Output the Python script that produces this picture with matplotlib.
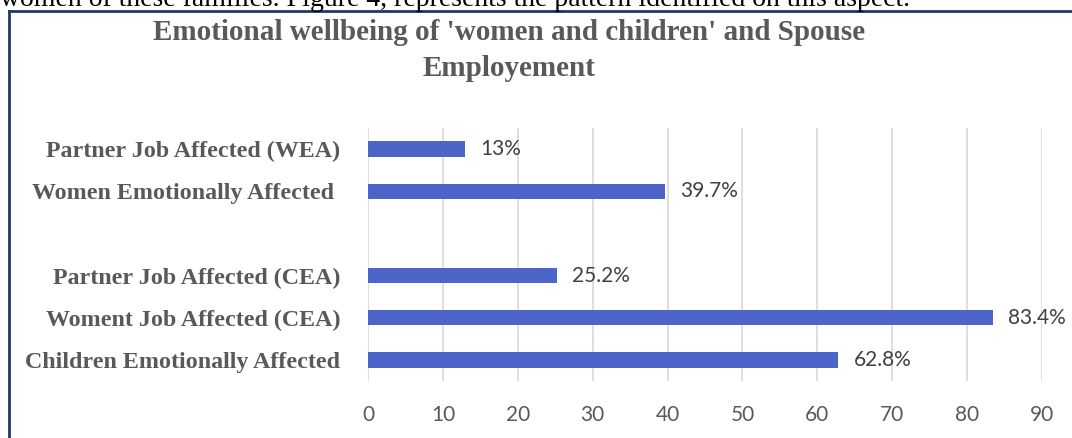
import matplotlib.pyplot as plt
from matplotlib.lines import Line2D

# ============ DATA ============
categories = ['Children Emotionally Affected', 'Woment Job Affected (CEA)',
              'Partner Job Affected (CEA)', '',
              'Women Emotionally Affected ', 'Partner Job Affected (WEA)']
values = [62.8, 83.4, 25.2, None, 39.7, 13]
value_labels = ['62.8%', '83.4%', '25.2%', '', '39.7%', '13%']
x_ticks = [0, 10, 20, 30, 40, 50, 60, 70, 80, 90]

BAR_COLOR = '#4d65c8'
GRAY = '#595959'

# ============ PLOT ============
fig = plt.figure(figsize=(10.72, 4.38), dpi=100)
ax = fig.add_axes([0.3433, 0.130, 0.6287, 0.578])

pos = [i for i, v in enumerate(values) if v is not None]
vals = [v for v in values if v is not None]
ax.barh(pos, vals, height=0.36, color=BAR_COLOR, zorder=3)

for i, v in enumerate(values):
    if v is None:
        continue
    ax.annotate(value_labels[i], (v, i), xytext=(11, 0), textcoords='offset points',
                va='center', ha='left', fontsize=15, color='#404040', family='Lato')

ax.set_xlim(0, 90)
ax.set_ylim(-0.5, 5.5)
ax.set_xticks(x_ticks)
ax.set_xticklabels([str(t) for t in x_ticks], fontsize=15, color=GRAY, family='Lato')
ax.set_yticks(range(len(categories)))
ax.set_yticklabels(categories, fontsize=17.3, color=GRAY, family='Liberation Serif',
                   fontweight='bold')
ax.tick_params(axis='both', length=0)
ax.tick_params(axis='x', pad=17)
ax.tick_params(axis='y', pad=20)
ax.grid(axis='x', color='#d9d9d9', linewidth=1.2, zorder=0)
for s in ax.spines.values():
    s.set_visible(False)

fig.text(0.475, 1 - 32 / 438, "Emotional wellbeing of 'women and children' and Spouse",
         ha='center', va='center', fontsize=21, fontweight='bold', color=GRAY,
         family='Liberation Serif')
fig.text(0.475, 1 - 68 / 438, "Employement",
         ha='center', va='center', fontsize=21, fontweight='bold', color=GRAY,
         family='Liberation Serif')

# clipped body text above the figure frame
fig.text(0.0, 1 - 6 / 438,
         "women of these families. Figure 4, represents the pattern identified on this aspect.",
         ha='left', va='baseline', fontsize=20, color='black', family='Liberation Serif')

# frame around the chart
fig.add_artist(Line2D([9 / 1072, 9 / 1072], [0, 1 - 10.5 / 438], color='#1f3864', lw=2))
fig.add_artist(Line2D([9 / 1072, 1], [1 - 10.5 / 438, 1 - 10.5 / 438], color='#1f3864', lw=2))

fig.savefig('out.png', dpi=100)
